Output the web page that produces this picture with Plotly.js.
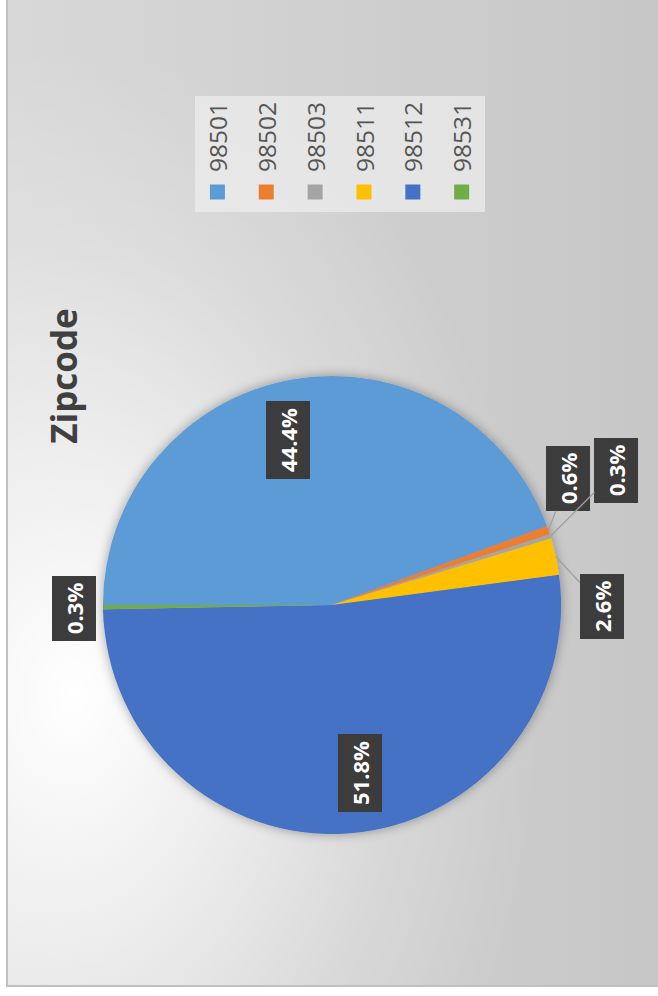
<!DOCTYPE html>
<html>
<head>
<meta charset="utf-8">
<script src="https://cdn.plot.ly/plotly-3.0.1.min.js"></script>
<style>
  html, body { margin:0; padding:0; background:#ffffff; overflow:hidden; width:658px; height:996px; }
  #frame { position:absolute; left:0; top:0; width:996px; height:658px; overflow:hidden;
           transform-origin:0 0; transform:translateY(996px) rotate(-90deg); background:#ffffff; }
  #box { position:absolute; left:9px; top:6px; width:1010px; height:680px;
         border-left:2px solid #c0c0c0; border-top:2px solid #c0c0c0;
         background:
           radial-gradient(ellipse 650px 470px at 290px 65px, rgba(255,255,255,1) 0%, rgba(255,255,255,0.6) 35%, rgba(255,255,255,0.2) 70%, rgba(255,255,255,0) 100%),
           linear-gradient(to bottom, #d8d8d8 0%, #c6c6c6 100%); }
  #chart { position:absolute; left:0; top:0; width:996px; height:658px; }
</style>
</head>
<body>
<div id="frame">
  <div id="box"></div>
  <div id="chart"></div>
</div>
<script>
// ---- data ----
const zipcodes = ['98501', '98502', '98503', '98511', '98512', '98531'];
const shares   = [44.4, 0.6, 0.3, 2.6, 51.8, 0.3];
const chartTitle = 'Zipcode';

// ---- styles ----
const sliceColors = ['#5B9BD5', '#ED7D31', '#A5A5A5', '#FFC000', '#4472C4', '#70AD47'];
// label placement (layout only): inside labels or outside with leader offsets in px
const labelPlacement = [
  {inside: true, k: 0.745, dAngle: -5},
  {ax: 52, ay: 20, leader: true},
  {ax: 66, ay: 66, leader: true},
  {ax: -50, ay: 46, leader: true},
  {inside: true, k: 0.745, dAngle: -5},
  {ax: -1, ay: -29, leader: false}
];

const W = 996, H = 658;
const CX = 391, CY = 332, R = 229;

const pie = {
  type: 'pie',
  labels: zipcodes,
  values: shares,
  sort: false,
  direction: 'clockwise',
  rotation: 0,
  marker: {colors: sliceColors, line: {width: 0}},
  textinfo: 'none',
  hoverinfo: 'skip',
  showlegend: false,
  domain: {x: [(CX - R) / W, (CX + R) / W], y: [1 - (CY + R) / H, 1 - (CY - R) / H]}
};

// legend entries (one per zipcode, so rows can be spaced like the reference)
const legendTraces = zipcodes.map((z, i) => ({
  type: 'scatter', mode: 'markers', x: [null], y: [null],
  name: z, legendgroup: z, showlegend: true,
  marker: {symbol: 'square', size: 15, color: sliceColors[i]},
  hoverinfo: 'skip'
}));

const total = shares.reduce((a, b) => a + b, 0);
let cum = 0;
const annotations = [];
shares.forEach((s, i) => {
  const mid = (cum + s / 2) / total;
  cum += s;
  const p = labelPlacement[i];
  const th = 2 * Math.PI * mid + (p.dAngle || 0) * Math.PI / 180;
  const k = p.inside ? p.k : 1.0;
  const u = CX + k * R * Math.sin(th);
  const v = CY - k * R * Math.cos(th);
  const a = {
    x: u / W, y: 1 - v / H, xref: 'paper', yref: 'paper',
    text: (s / total * 100).toFixed(1) + '%',
    font: {family: 'Open Sans, sans-serif', size: 22, color: '#ffffff', weight: 700},
    bgcolor: '#3c3c3c',
    borderpad: 7,
    borderwidth: 0
  };
  if (p.inside) {
    a.showarrow = false;
    a.xanchor = 'center';
    a.yanchor = 'middle';
  } else {
    a.showarrow = true;
    a.arrowhead = 0;
    a.arrowwidth = 1.3;
    a.arrowcolor = p.leader ? '#a0a0a0' : 'rgba(0,0,0,0)';
    a.standoff = 0;
    a.ax = p.ax;
    a.ay = p.ay;
  }
  annotations.push(a);
});

const layout = {
  width: W, height: H,
  margin: {l: 0, r: 0, t: 0, b: 0},
  paper_bgcolor: 'rgba(0,0,0,0)',
  plot_bgcolor: 'rgba(0,0,0,0)',
  xaxis: {visible: false},
  yaxis: {visible: false},
  title: {
    text: chartTitle,
    x: 620 / W, xanchor: 'center', xref: 'paper',
    y: 1 - 65 / H, yanchor: 'middle', yref: 'container',
    font: {family: 'Open Sans, sans-serif', size: 35, color: '#404040', weight: 700}
  },
  showlegend: true,
  legend: {
    x: 784 / W, xanchor: 'left',
    y: 1 - 195 / H, yanchor: 'top',
    orientation: 'v',
    traceorder: 'grouped',
    tracegroupgap: 14,
    bgcolor: 'rgba(236,236,236,0.75)',
    borderwidth: 0,
    font: {family: 'Open Sans, sans-serif', size: 24.5, color: '#555555'}
  },
  annotations: annotations
};

Plotly.newPlot('chart', [pie].concat(legendTraces), layout, {displayModeBar: false, staticPlot: true}).then(gd => {
  // soft shadow around the pie
  const svg = gd.querySelector('svg.main-svg');
  const ns = 'http://www.w3.org/2000/svg';
  let defs = svg.querySelector('defs');
  const f = document.createElementNS(ns, 'filter');
  f.setAttribute('id', 'pieShadow');
  f.setAttribute('x', '-20%'); f.setAttribute('y', '-20%');
  f.setAttribute('width', '140%'); f.setAttribute('height', '140%');
  f.innerHTML = '<feGaussianBlur in="SourceAlpha" stdDeviation="6"/>' +
                '<feComponentTransfer><feFuncA type="linear" slope="0.35"/></feComponentTransfer>' +
                '<feMerge><feMergeNode/><feMergeNode in="SourceGraphic"/></feMerge>';
  defs.appendChild(f);
  const pl = gd.querySelector('.pielayer');
  if (pl) pl.setAttribute('filter', 'url(#pieShadow)');
});
</script>
</body>
</html>
